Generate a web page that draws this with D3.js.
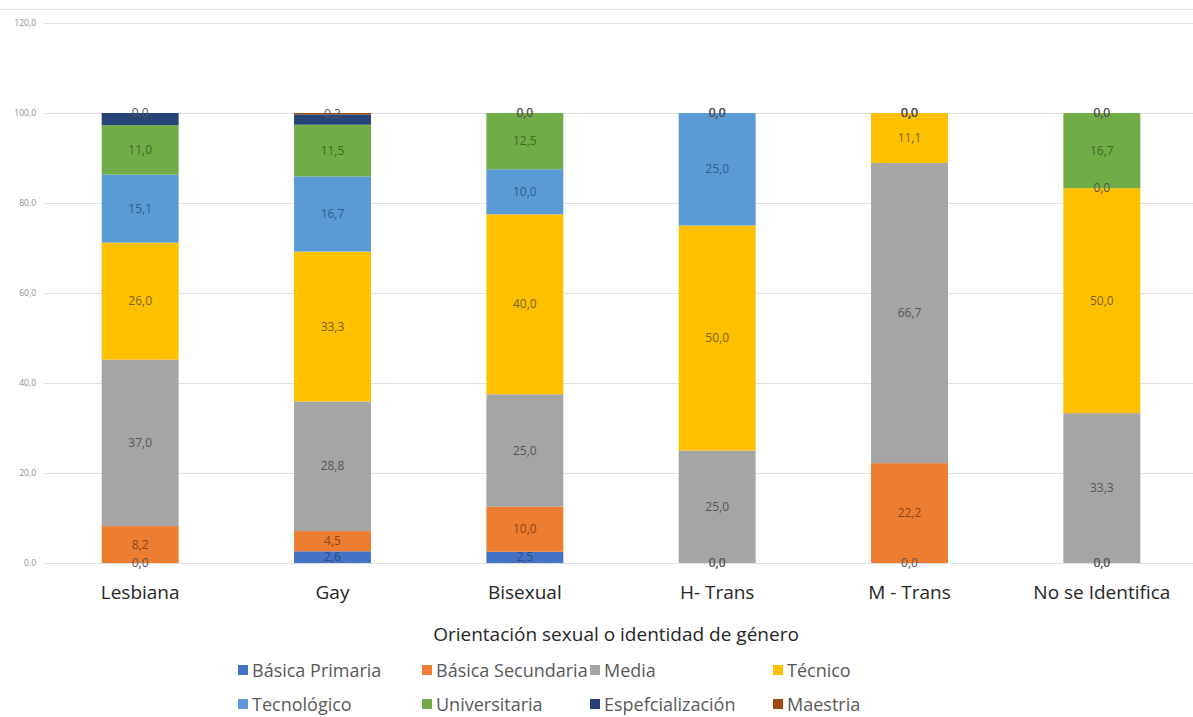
<!DOCTYPE html>
<html><head><meta charset="utf-8">
<script src="https://cdn.jsdelivr.net/npm/d3@7/dist/d3.min.js"></script>
<style>body{margin:0;background:#fff}svg{display:block}</style>
</head><body><svg id="c" width="1193" height="717"></svg>
<script>
const categories = ["Lesbiana","Gay","Bisexual","H- Trans","M - Trans","No se Identifica"];
const seriesNames = ["Básica Primaria","Básica Secundaria","Media","Técnico","Tecnológico","Universitaria","Espefcialización","Maestria"];
const basicaPrimaria   = [0.0, 2.6, 2.5, 0.0, 0.0, 0.0];
const basicaSecundaria = [8.2, 4.5, 10.0, 0.0, 22.2, 0.0];
const media            = [37.0, 28.8, 25.0, 25.0, 66.7, 33.3];
const tecnico          = [26.0, 33.3, 40.0, 50.0, 11.1, 50.0];
const tecnologico      = [15.1, 16.7, 10.0, 25.0, 0.0, 0.0];
const universitaria    = [11.0, 11.5, 12.5, 0.0, 0.0, 16.7];
const especializacion  = [2.7, 2.3, 0.0, 0.0, 0.0, 0.0];
const maestria         = [0.0, 0.3, 0.0, 0.0, 0.0, 0.0];
const yTicks = [0,20,40,60,80,100,120];

const seriesValues = [basicaPrimaria,basicaSecundaria,media,tecnico,tecnologico,universitaria,especializacion,maestria];
const colors = ["#4472C4","#ED7D31","#A5A5A5","#FFC000","#5B9BD5","#70AD47","#264478","#9E480E"];
const labelColors = ["#2a4a85","#8c4515","#555555","#7a6320","#2f5d8a","#3e6a27","#1f365f","#5a5a5a"];

const svg = d3.select("#c");
const font = "'Open Sans', Lato, sans-serif";

const x = d3.scaleBand().domain(categories).range([44,1198]).paddingInner(0.6).paddingOuter(0.3);
const y = d3.scaleLinear().domain([0,120]).range([563,23]);

// top border line
svg.append("line").attr("x1",0).attr("x2",1193).attr("y1",9.5).attr("y2",9.5).attr("stroke","#e6e6e6");

// gridlines
svg.append("g").selectAll("line").data(yTicks).join("line")
  .attr("x1",44).attr("x2",1193).attr("y1",d=>Math.round(y(d))+0.5).attr("y2",d=>Math.round(y(d))+0.5)
  .attr("stroke","#e0e0e0").attr("stroke-width",1);

// y tick labels
svg.append("g").selectAll("text").data(yTicks).join("text")
  .attr("x",36).attr("y",d=>y(d)+3).attr("text-anchor","end")
  .attr("font-family",font).attr("font-size",8.5).attr("fill","#8c8c8c")
  .text(d=>d3.format(".1f")(d).replace(".",","));

// stacking
const rows = categories.map((c,i)=>{const o={cat:c}; seriesNames.forEach((s,j)=>o[s]=seriesValues[j][i]); return o;});
const stack = d3.stack().keys(seriesNames)(rows);

const gBars = svg.append("g");
stack.forEach((layer,j)=>{
  gBars.append("g").selectAll("rect").data(layer).join("rect")
    .attr("x",d=>x(d.data.cat)).attr("width",x.bandwidth())
    .attr("y",d=>y(d[1])).attr("height",d=>Math.max(0,y(d[0])-y(d[1])))
    .attr("fill",colors[j]);
});
const gLab = svg.append("g");
stack.forEach((layer,j)=>{
  // Especialización labels are dark-on-dark (not visible) in the reference, so only its zero labels are drawn
  const data = j===6 ? layer.filter(d=>d[1]-d[0]===0) : layer;
  gLab.append("g").selectAll("text").data(data).join("text")
    .attr("x",d=>x(d.data.cat)+x.bandwidth()/2)
    .attr("y",d=>y((d[0]+d[1])/2)+4)
    .attr("text-anchor","middle").attr("font-family",font).attr("font-size",12)
    .attr("fill",d=> (d[1]-d[0])===0 ? "#555555" : labelColors[j])
    .text(d=>d3.format(".1f")(d[1]-d[0]).replace(".",","));
});

// category labels
svg.append("g").selectAll("text").data(categories).join("text")
  .attr("x",d=>x(d)+x.bandwidth()/2).attr("y",599).attr("text-anchor","middle")
  .attr("font-family",font).attr("font-size",19).attr("fill","#262626").text(d=>d);

// axis title
svg.append("text").attr("x",616).attr("y",641).attr("text-anchor","middle")
  .attr("font-family",font).attr("font-size",19).attr("fill","#262626")
  .text("Orientación sexual o identidad de género");

// legend
const legX = [238,422,590,773];
const legY = [670,704];
const lg = svg.append("g");
seriesNames.forEach((s,i)=>{
  const cx = legX[i%4], cy = legY[Math.floor(i/4)];
  lg.append("rect").attr("x",cx).attr("y",cy-5).attr("width",10).attr("height",10).attr("fill",colors[i]);
  lg.append("text").attr("x",cx+14).attr("y",cy+6.5).attr("font-family",font).attr("font-size",18)
    .attr("fill","#595959").text(s);
});
</script></body></html>
